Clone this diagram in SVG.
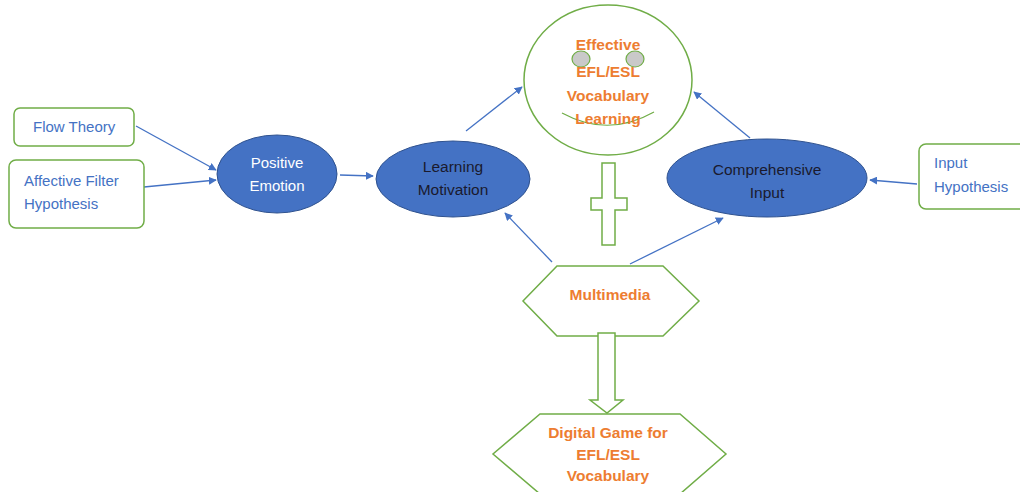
<svg xmlns="http://www.w3.org/2000/svg" width="1020" height="492" viewBox="0 0 1020 492">
<defs>
<marker id="ah" viewBox="0 0 10 10" refX="9" refY="5" markerWidth="8" markerHeight="8" orient="auto" markerUnits="userSpaceOnUse">
<path d="M0,0 L10,5 L0,10 z" fill="#4472C4"/>
</marker>
<style>
.box{fill:#fff;stroke:#70AD47;stroke-width:1.5}
.ell{fill:#4472C4;stroke:#2F528F;stroke-width:1}
.btxt{font-family:"Liberation Sans",Arial,sans-serif;font-size:15px;fill:#4472C4}
.wtxt{font-family:"Liberation Sans",Arial,sans-serif;font-size:15px;fill:#fff;text-anchor:middle}
.dtxt{font-family:"Liberation Sans",Arial,sans-serif;font-size:15.5px;fill:#1a1a2e;text-anchor:middle}
.otxt{font-family:"Liberation Sans",Arial,sans-serif;font-size:15.5px;font-weight:bold;fill:#ED7D31;text-anchor:middle}
.con{stroke:#4472C4;stroke-width:1.3;fill:none;marker-end:url(#ah)}
</style>
</defs>
<rect width="1020" height="492" fill="#fff"/>

<g id="connectors">
<line class="con" x1="136" y1="126" x2="216" y2="170"/>
<line class="con" x1="144" y1="187" x2="216" y2="180"/>
<line class="con" x1="340" y1="175" x2="373" y2="176"/>
<line class="con" x1="466" y1="131" x2="522" y2="87"/>
<line class="con" x1="750" y1="138" x2="694" y2="92"/>
<line class="con" x1="917" y1="184" x2="870" y2="180"/>
<line class="con" x1="552" y1="262" x2="505" y2="213"/>
<line class="con" x1="630" y1="264" x2="723" y2="218"/>
</g>

<g id="flow-theory">
<rect class="box" x="14" y="108" width="120" height="38" rx="6"/>
<text class="btxt" x="33" y="132">Flow Theory</text>
</g>

<g id="affective-filter">
<rect class="box" x="9" y="160" width="135" height="68" rx="7"/>
<text class="btxt" x="24" y="186">Affective Filter</text>
<text class="btxt" x="24" y="209">Hypothesis</text>
</g>

<g id="positive-emotion">
<ellipse class="ell" cx="277" cy="174" rx="60" ry="39"/>
<text class="wtxt" x="277" y="168">Positive</text>
<text class="wtxt" x="277" y="191">Emotion</text>
</g>

<g id="learning-motivation">
<ellipse class="ell" cx="453" cy="179" rx="77" ry="38"/>
<text class="dtxt" x="453" y="172">Learning</text>
<text class="dtxt" x="453" y="195">Motivation</text>
</g>

<g id="comprehensive-input">
<ellipse class="ell" cx="767" cy="178" rx="100" ry="39"/>
<text class="dtxt" x="767" y="175">Comprehensive</text>
<text class="dtxt" x="767" y="198">Input</text>
</g>

<g id="input-hypothesis">
<rect class="box" x="919" y="144" width="110" height="65" rx="7"/>
<text class="btxt" x="934" y="168">Input</text>
<text class="btxt" x="934" y="192">Hypothesis</text>
</g>

<g id="effective-learning">
<ellipse cx="608" cy="80" rx="84" ry="75" fill="#fff" stroke="#70AD47" stroke-width="1.5"/>
<ellipse cx="581" cy="59" rx="9" ry="8" fill="#C9C9C9" stroke="#70AD47" stroke-width="1.2"/>
<ellipse cx="635" cy="59" rx="9" ry="8" fill="#C9C9C9" stroke="#70AD47" stroke-width="1.2"/>
<path d="M562,113 Q608,138 654,112" fill="none" stroke="#70AD47" stroke-width="1.2"/>
<text class="otxt" x="608" y="50">Effective</text>
<text class="otxt" x="608" y="77">EFL/ESL</text>
<text class="otxt" x="608" y="101">Vocabulary</text>
<text class="otxt" x="608" y="124">Learning</text>
</g>

<g id="cross">
<path d="M602,163 H615 V198 H627 V210 H615 V245 H602 V210 H591 V198 H602 Z" fill="#fff" stroke="#70AD47" stroke-width="1.5"/>
</g>

<g id="multimedia">
<polygon points="557,266 663,266 699,301 663,336 557,336 523,301" fill="#fff" stroke="#70AD47" stroke-width="1.5"/>
<text class="otxt" x="610" y="300">Multimedia</text>
</g>

<g id="down-arrow">
<path d="M598,333 H615 V400 H623 L607,413 L590,400 H598 Z" fill="#fff" stroke="#70AD47" stroke-width="1.5"/>
</g>

<g id="digital-game">
<polygon points="540,414 680,414 726,454 680,494 540,494 493,454" fill="#fff" stroke="#70AD47" stroke-width="1.5"/>
<text class="otxt" x="608" y="438">Digital Game for</text>
<text class="otxt" x="608" y="460">EFL/ESL</text>
<text class="otxt" x="608" y="481">Vocabulary</text>
</g>
</svg>
